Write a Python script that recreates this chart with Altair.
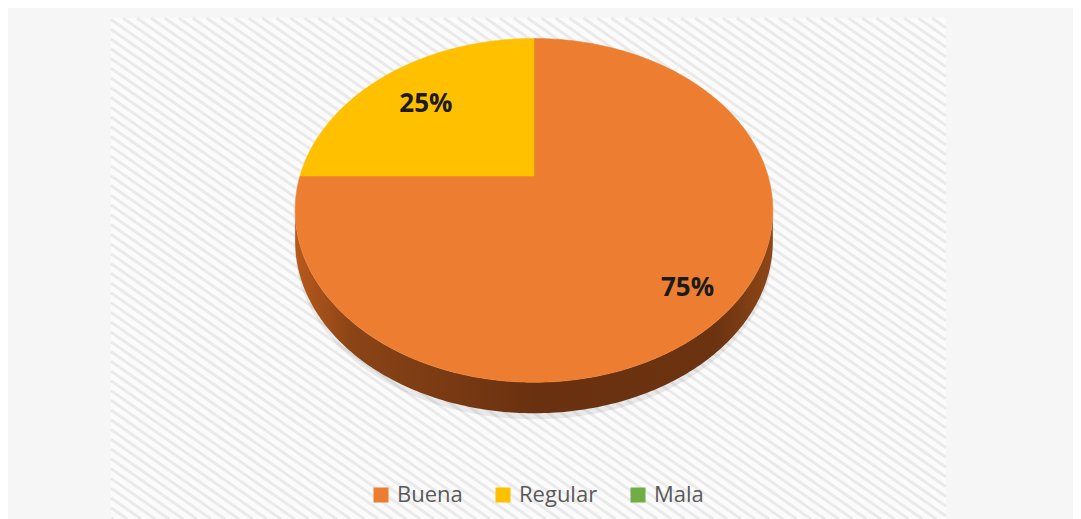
import altair as alt
import numpy as np
import pandas as pd

# ---- data ----
categories = ["Buena", "Regular", "Mala"]
values = [75, 25, 0]
colors = ["#ED7D31", "#FFC000", "#70AD47"]
label_text = ["75%", "25%", "0%"]

# ---- layout / geometry (pixel space of the chart) ----
W, H = 1065, 511
CX, CY = 526, 168
RX, RY, P = 234, 165, 0.2
DEPTH = 31
label_radius = {"Buena": 0.82, "Regular": 0.72, "Mala": 0.7}


def proj(a_deg, k=1.0, dy=0.0):
    a = np.radians(a_deg)
    u = k * np.sin(a)
    v = -k * np.cos(a)
    den = 1 - P * v
    return float(CX + RX * u / den), float(CY + RY * v / den + dy)


def feature(coords, kind="Polygon", **props):
    return {"type": "Feature", "geometry": {"type": kind, "coordinates": coords},
            "properties": props}


# background striped panel
X0, X1, Y0, Y1 = 103, 938, 10, 511
panel = [feature([[[X0, Y0], [X1, Y0], [X1, Y1], [X0, Y1], [X0, Y0]]])]
m = 0.7
step = 8 * np.sqrt(1 + m * m)
segs = []
c = Y0 - m * X1
while c < Y1 - m * X0:
    xl = max(X0, (Y0 - c) / m)
    xh = min(X1, (Y1 - c) / m)
    if xh > xl:
        segs.append([[float(xl), float(c + m * xl)], [float(xh), float(c + m * xh)]])
    c += step
stripes = [feature(segs, kind="MultiLineString")]

# pie side (visible front wall) and shadow
a1 = float(np.degrees(np.arccos(-P)))
a2 = 360 - a1
arc = np.linspace(a1, a2, 200)
top_edge = [proj(a) for a in arc]
bot_edge = [proj(a, dy=DEPTH) for a in arc[::-1]]
side_ring = [list(p) for p in top_edge + bot_edge] + [list(top_edge[0])]
side = [feature([side_ring])]
sh_top = [proj(a, dy=4) for a in arc]
sh_bot = [proj(a, dy=DEPTH + 6) for a in arc[::-1]]
shadow = [feature([[list(p) for p in sh_top + sh_bot] + [list(sh_top[0])]])]

# pie top faces
total = sum(values)
tops = []
labels = []
start = 0.0
for cat, val, txt in zip(categories, values, label_text):
    sweep = 360.0 * val / total
    if val > 0:
        pts = [proj(a) for a in np.linspace(start, start + sweep, max(2, int(sweep * 2)))]
        ring = [[float(CX), float(CY)]] + [list(p) for p in pts] + [[float(CX), float(CY)]]
        tops.append(feature([ring], cat=cat))
        lx, ly = proj(start + sweep / 2, k=label_radius[cat])
        labels.append({"x": lx, "y": ly, "text": txt})
    start += sweep
labels_df = pd.DataFrame(labels)

panel_layer = alt.Chart(alt.Data(values=panel)).mark_geoshape(
    fill="#fbfbfb", strokeWidth=0)
stripe_layer = alt.Chart(alt.Data(values=stripes)).mark_geoshape(
    filled=False, fill="transparent", stroke="#eaeaea", strokeWidth=3)
shadow_layer = alt.Chart(alt.Data(values=shadow)).mark_geoshape(
    fill="#000000", fillOpacity=0.07, strokeWidth=0)
side_layer = alt.Chart(alt.Data(values=side)).mark_geoshape(
    fill=alt.Gradient(gradient="linear",
                      stops=[alt.GradientStop(color="#b8591c", offset=0),
                             alt.GradientStop(color="#8a4416", offset=0.12),
                             alt.GradientStop(color="#6a3110", offset=0.5),
                             alt.GradientStop(color="#6c3311", offset=0.88),
                             alt.GradientStop(color="#8e4717", offset=1)],
                      x1=0, x2=1, y1=0, y2=0),
    strokeWidth=0)
top_layer = alt.Chart(alt.Data(values=tops)).mark_geoshape(
    strokeWidth=0.6, opacity=1).encode(
    fill=alt.Fill("properties.cat:N",
                  scale=alt.Scale(domain=categories, range=colors),
                  legend=alt.Legend(title=None, orient="none", legendX=362, legendY=476,
                                    direction="horizontal", symbolType="square",
                                    symbolSize=225, symbolStrokeWidth=0, symbolOpacity=1,
                                    labelFont="Open Sans", labelFontSize=22,
                                    labelColor="#595959", columnPadding=29,
                                    labelOffset=5, padding=0)),
    stroke=alt.Stroke("properties.cat:N",
                      scale=alt.Scale(domain=categories, range=colors), legend=None),
)
text_layer = alt.Chart(labels_df).mark_text(
    font="Open Sans", fontWeight="bold", fontSize=26, color="#1b1b1b",
    align="center", baseline="middle", dy=4).encode(
    longitude="x:Q", latitude="y:Q", text="text:N")

chart = alt.layer(panel_layer, stripe_layer, shadow_layer, side_layer, top_layer, text_layer
                  ).project(type="identity", scale=1, translate=[0, 0]).properties(
    width=W, height=H, background="#f6f6f6", padding=0,
    autosize=alt.AutoSizeParams(type="none")
).configure_view(stroke=None)

chart.save("out.html", embed_options={"renderer": "svg", "actions": False})
